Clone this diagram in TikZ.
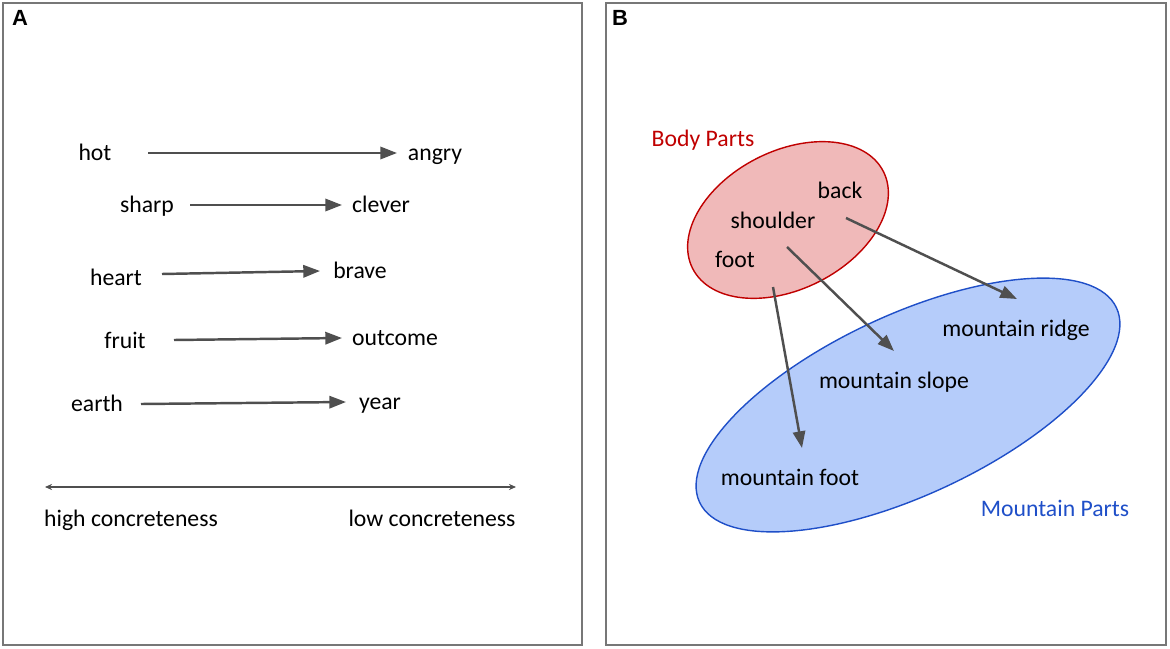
\documentclass[tikz,border=0pt]{standalone}
\usepackage{fontspec}
\setmainfont{Carlito}
\newfontfamily\panelfont{Liberation Sans}
\usetikzlibrary{arrows.meta, positioning}

\definecolor{arrowgray}{HTML}{4F4F4F}
\definecolor{framegray}{HTML}{777777}
\definecolor{bodyred}{HTML}{C00000}
\definecolor{bodyfill}{HTML}{F0B9B9}
\definecolor{mountblue}{HTML}{1F4FC8}
\definecolor{mountfill}{HTML}{B5CCFA}

\begin{document}
\begin{tikzpicture}[x=0.02cm, y=-0.02cm, >={Triangle[length=9.5pt, width=7pt]}, font=\fontsize{13.5}{16}\selectfont,
    word/.style={inner sep=0pt, anchor=mid},
    link/.style={->, draw=arrowgray, line width=1.4pt},
    scalebar/.style={{Stealth[length=4pt, width=3.5pt]}-{Stealth[length=4pt, width=3.5pt]}, draw=arrowgray, line width=0.6pt},
    panel/.style={draw=framegray, line width=0.85pt},
    panellabel/.style={inner sep=0pt, font=\panelfont\bfseries\fontsize{12.5}{14}\selectfont}]

        \useasboundingbox (0,0) rectangle (1170,649);

        % panel A
        \draw[panel] (3,3) rectangle (582,645);
        \node[panellabel] (labA) at (20,18) {A};

        \node[word] (hot) at (95,156) {hot};
        \node[word] (angry) at (435,156) {angry};
        \node[word] (sharp) at (147,208) {sharp};
        \node[word] (clever) at (381,208) {clever};
        \node[word] (heart) at (116,281) {heart};
        \node[word] (brave) at (360,274) {brave};
        \node[word] (fruit) at (125,344) {fruit};
        \node[word] (outcome) at (395,341) {outcome};
        \node[word] (earth) at (97,407) {earth};
        \node[word] (year) at (380,405) {year};

        \draw[link] ([shift={(53,-3)}]hot.mid) -- ([shift={(-38,-3)}]angry.mid);
        \draw[link] ([shift={(43,-3)}]sharp.mid) -- ([shift={(-39,-3)}]clever.mid);
        \draw[link] ([shift={(46,-7)}]heart.mid) -- ([shift={(-40,-3)}]brave.mid);
        \draw[link] ([shift={(49,-4)}]fruit.mid) -- ([shift={(-53,-3)}]outcome.mid);
        \draw[link] ([shift={(44,-3)}]earth.mid) -- ([shift={(-34,-3)}]year.mid);

        \coordinate (high) at (45,487);
        \coordinate (low) at (516,487);
        \draw[scalebar] (high) -- (low);
        \node[word] (highc) at (131,522) {high concreteness};
        \node[word] (lowc) at (432,522) {low concreteness};

        % panel B
        \draw[panel] (606,3) rectangle (1166,645);
        \node[panellabel] (labB) at (620,18) {B};

        \filldraw[draw=mountblue, fill=mountfill, line width=0.8pt, rotate around={25:(908,405)}] (908,405) ellipse (230 and 90);
        \filldraw[draw=bodyred, fill=bodyfill, line width=0.8pt, rotate around={27:(788,220)}] (788,220) ellipse (107 and 69);

        \node[word, text=bodyred] (body) at (703,142) {Body Parts};
        \node[word] (back) at (840,194) {back};
        \node[word] (shoulder) at (773,224) {shoulder};
        \node[word] (foot) at (735,263) {foot};

        \node[word] (ridge) at (1016,332) {mountain ridge};
        \node[word] (slope) at (894,384) {mountain slope};
        \node[word] (mfoot) at (790,481) {mountain foot};
        \node[word, text=mountblue] (mountain) at (1055,512) {Mountain Parts};

        \draw[link] ([shift={(6,24)}]back.mid) -- ([shift={(1,-33)}]ridge.mid);
        \draw[link] ([shift={(14,23)}]shoulder.mid) -- ([shift={(0,-33)}]slope.mid);
        \draw[link] ([shift={(38,24)}]foot.mid) -- ([shift={(12,-33)}]mfoot.mid);

    \end{tikzpicture}
\end{document}
